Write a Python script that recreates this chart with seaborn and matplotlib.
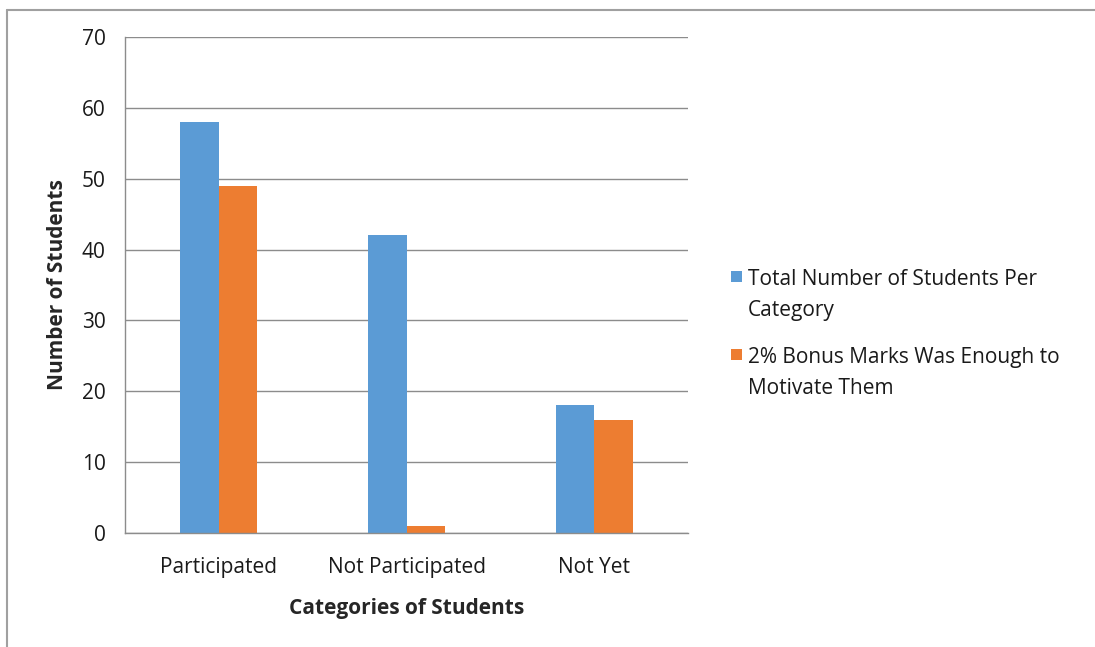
import pandas as pd
import matplotlib.pyplot as plt
import seaborn as sns
from matplotlib.lines import Line2D
from matplotlib.patches import Rectangle

categories = ['Participated', 'Not Participated', 'Not Yet']
series_names = ['Total Number of Students Per\nCategory',
                '2% Bonus Marks Was Enough to\nMotivate Them']
total_students = [58, 42, 18]
bonus_motivated = [49, 1, 16]

colors = ['#5B9BD5', '#ED7D31']

df = pd.DataFrame({
    'category': categories * 2,
    'series': [series_names[0]] * 3 + [series_names[1]] * 3,
    'value': total_students + bonus_motivated,
})

sns.set_style('white')
plt.rcParams['font.family'] = ['Open Sans', 'DejaVu Sans']
fs = 15

fig = plt.figure(figsize=(10.95, 6.47), dpi=100)
ax = fig.add_axes([0.1142, 0.1762, 0.5141, 0.7666])

sns.barplot(data=df, x='category', y='value', hue='series', palette=colors,
            width=0.41, saturation=1, linewidth=0, ax=ax, legend=False)

ax.set_ylim(0, 70)
ax.set_yticks(range(0, 71, 10))
ax.yaxis.grid(True, color='#8c8c8c', linewidth=1)
ax.set_axisbelow(True)
for s in ['top', 'right']:
    ax.spines[s].set_visible(False)
for s in ['left', 'bottom']:
    ax.spines[s].set_color('#8c8c8c')
    ax.spines[s].set_linewidth(1)
ax.tick_params(axis='y', length=7, color='#8c8c8c', labelsize=fs, pad=7, labelcolor='#1a1a1a')
ax.tick_params(axis='x', length=0, labelsize=fs, pad=17, labelcolor='#1a1a1a')

ax.set_xlabel('Categories of Students', fontsize=fs, fontweight='bold', labelpad=15)
ax.set_ylabel('Number of Students', fontsize=fs, fontweight='bold', labelpad=10)

# legend drawn by hand so the swatch sits beside the first text line
legend_tops = [1 - 271 / 647, 1 - 349 / 647]
for c, name, top in zip(colors, series_names, legend_tops):
    fig.add_artist(Rectangle((731 / 1095, top - 11 / 647), 11 / 1095, 11 / 647,
                             transform=fig.transFigure, facecolor=c, edgecolor='none'))
    fig.text(748 / 1095, top + 2 / 647, name, fontsize=fs, va='top', ha='left',
             linespacing=1.62, color='#1a1a1a')

# outer chart border (top and left edges visible)
fig.add_artist(Line2D([7 / 1095, 7 / 1095], [0, 1 - 10 / 647], transform=fig.transFigure,
                      color='#a0a0a0', linewidth=1.5))
fig.add_artist(Line2D([7 / 1095, 1], [1 - 10 / 647, 1 - 10 / 647], transform=fig.transFigure,
                      color='#a0a0a0', linewidth=1.5))

fig.savefig('out.png', dpi=100)
